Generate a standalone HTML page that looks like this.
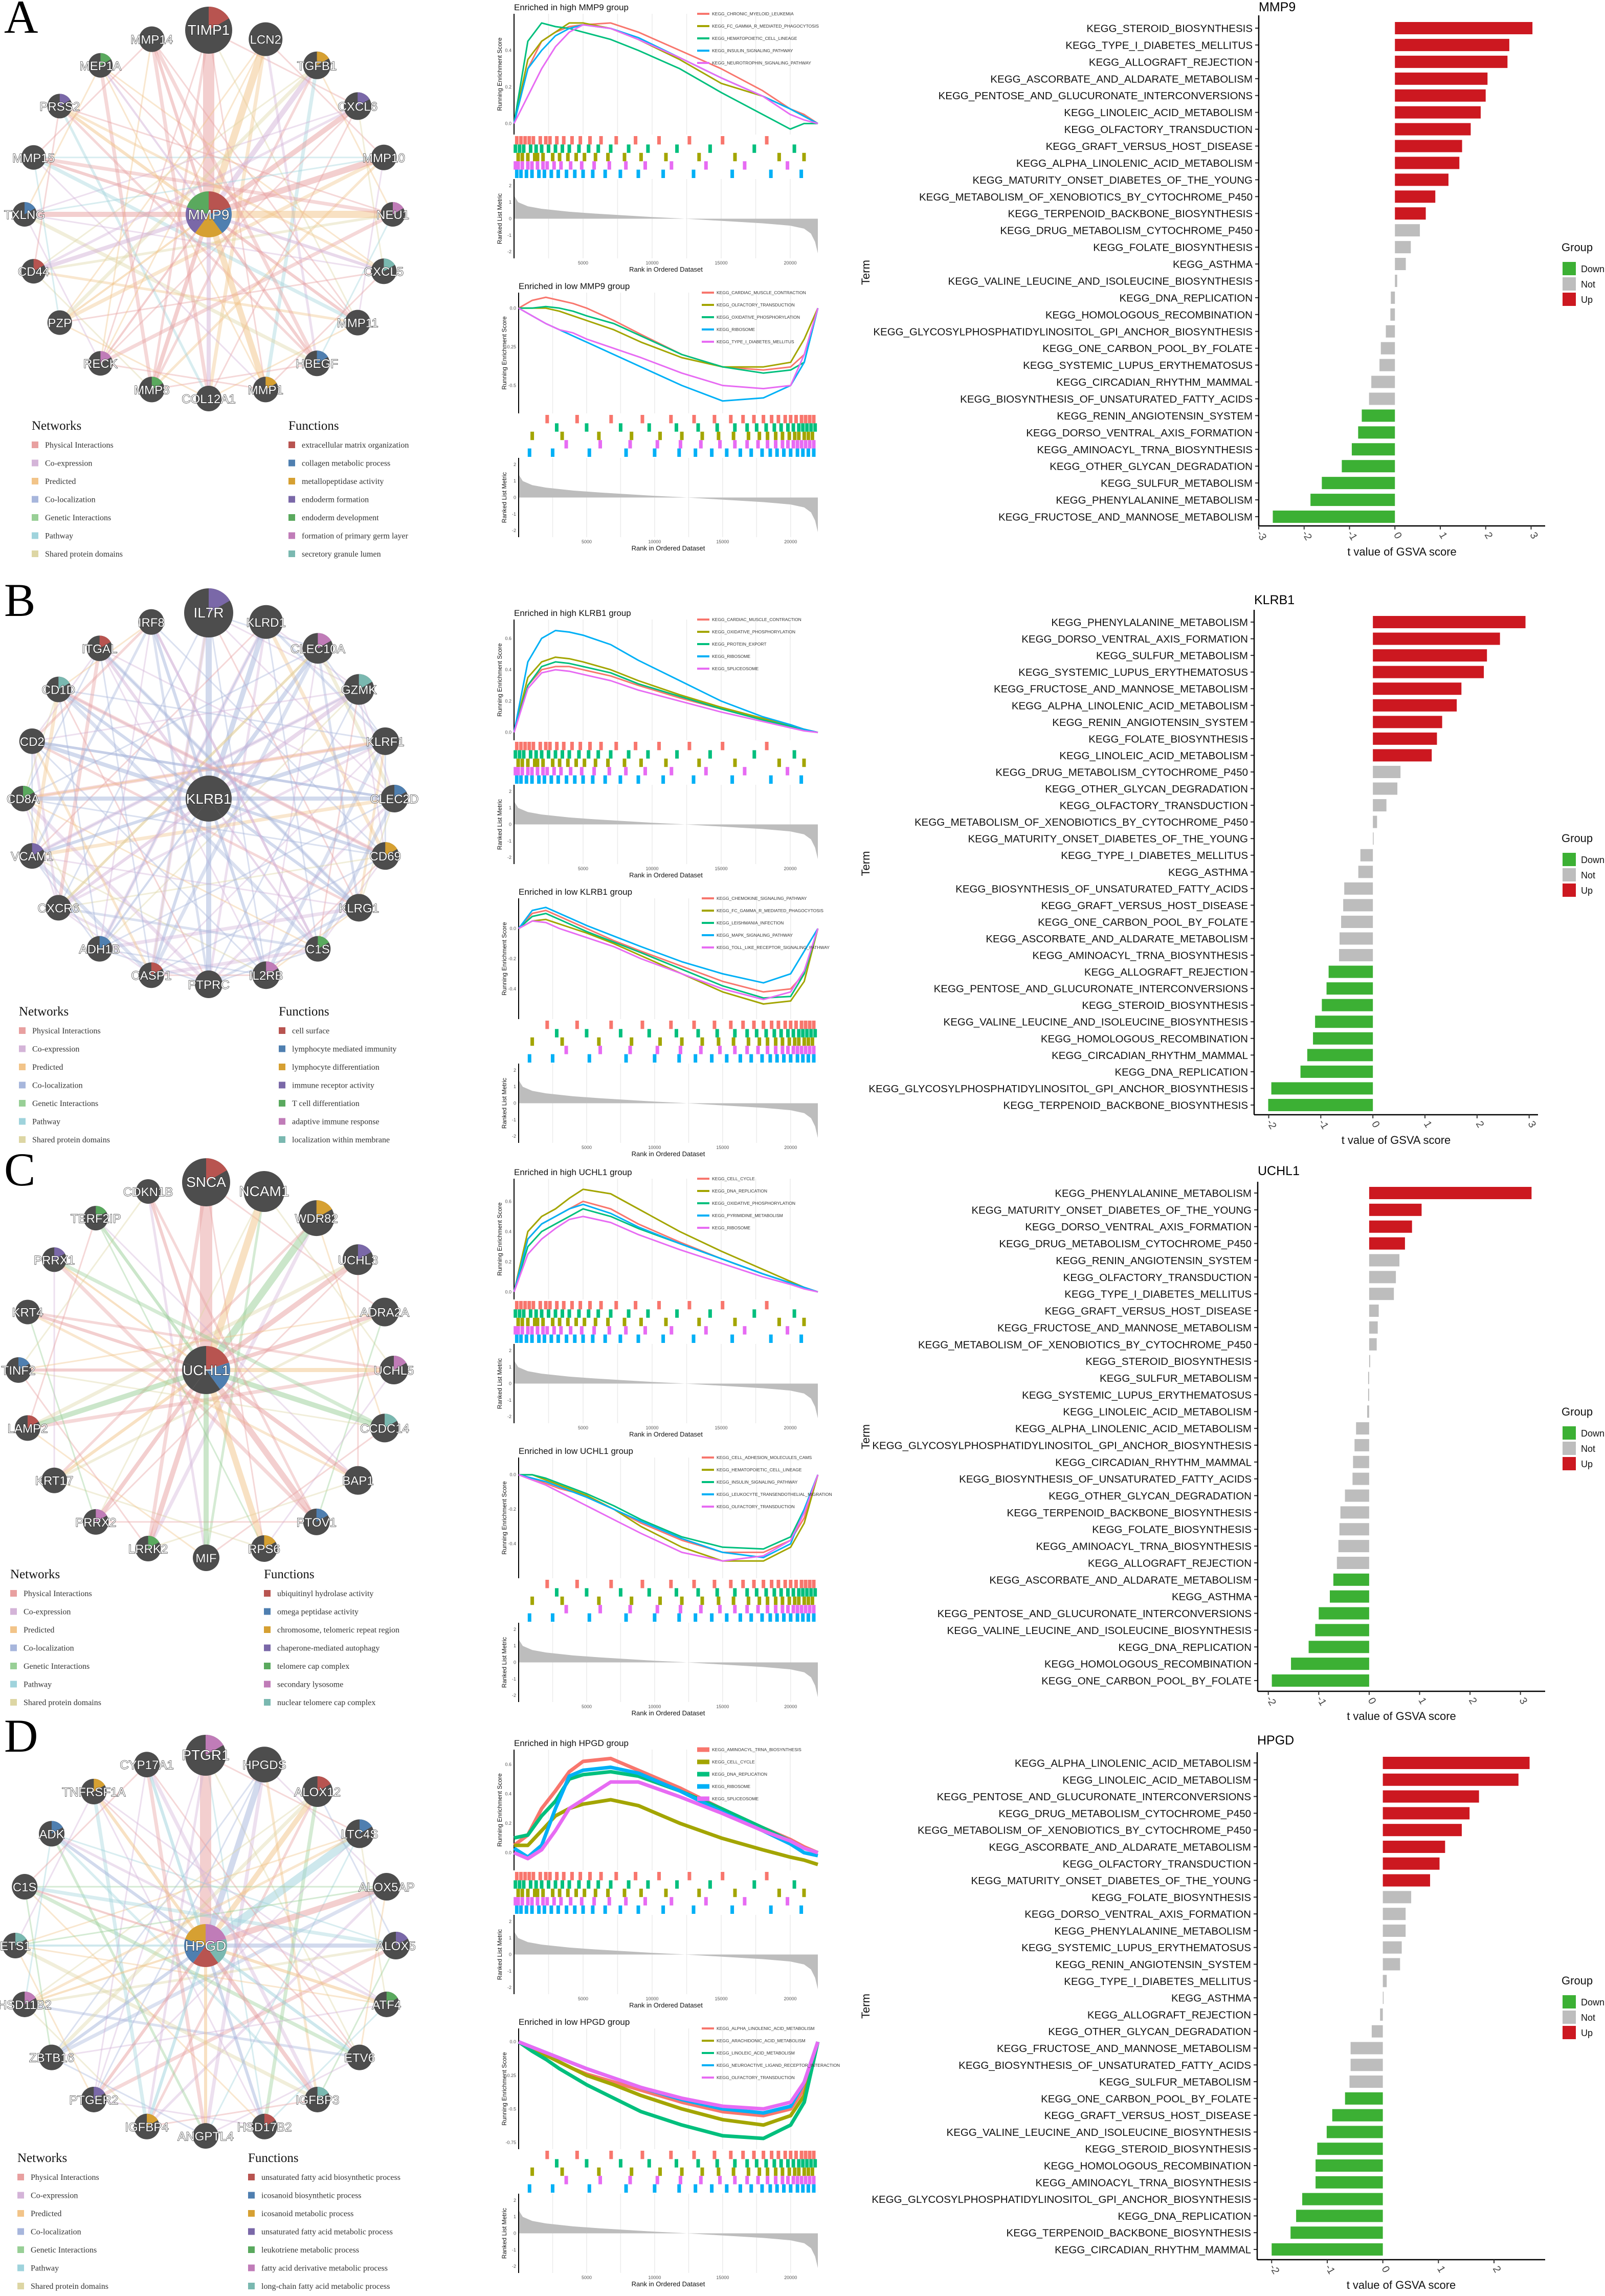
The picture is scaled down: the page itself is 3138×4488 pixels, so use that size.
<!DOCTYPE html>
<html><head><meta charset="utf-8"><title>Figure</title>
<style>
html,body{margin:0;padding:0;background:#fff;}
svg{display:block;}
text{font-family:"Liberation Sans",sans-serif;}
.serif{font-family:"Liberation Serif",serif;}
</style></head>
<body>
<svg id="fig" xmlns="http://www.w3.org/2000/svg" width="3138" height="4488" viewBox="0 0 3138 4488">
<rect x="0" y="0" width="3138" height="4488" fill="#fff"/>
</svg>
<script>
// ---------------- BAR CHART DATA ----------------
const mmp9Terms=["STEROID_BIOSYNTHESIS","TYPE_I_DIABETES_MELLITUS","ALLOGRAFT_REJECTION","ASCORBATE_AND_ALDARATE_METABOLISM","PENTOSE_AND_GLUCURONATE_INTERCONVERSIONS","LINOLEIC_ACID_METABOLISM","OLFACTORY_TRANSDUCTION","GRAFT_VERSUS_HOST_DISEASE","ALPHA_LINOLENIC_ACID_METABOLISM","MATURITY_ONSET_DIABETES_OF_THE_YOUNG","METABOLISM_OF_XENOBIOTICS_BY_CYTOCHROME_P450","TERPENOID_BACKBONE_BIOSYNTHESIS","DRUG_METABOLISM_CYTOCHROME_P450","FOLATE_BIOSYNTHESIS","ASTHMA","VALINE_LEUCINE_AND_ISOLEUCINE_BIOSYNTHESIS","DNA_REPLICATION","HOMOLOGOUS_RECOMBINATION","GLYCOSYLPHOSPHATIDYLINOSITOL_GPI_ANCHOR_BIOSYNTHESIS","ONE_CARBON_POOL_BY_FOLATE","SYSTEMIC_LUPUS_ERYTHEMATOSUS","CIRCADIAN_RHYTHM_MAMMAL","BIOSYNTHESIS_OF_UNSATURATED_FATTY_ACIDS","RENIN_ANGIOTENSIN_SYSTEM","DORSO_VENTRAL_AXIS_FORMATION","AMINOACYL_TRNA_BIOSYNTHESIS","OTHER_GLYCAN_DEGRADATION","SULFUR_METABOLISM","PHENYLALANINE_METABOLISM","FRUCTOSE_AND_MANNOSE_METABOLISM"];
const mmp9Values=[3.03,2.52,2.48,2.04,2.0,1.89,1.67,1.48,1.42,1.18,0.89,0.68,0.55,0.35,0.24,0.05,-0.09,-0.1,-0.2,-0.31,-0.34,-0.52,-0.57,-0.73,-0.81,-0.95,-1.17,-1.61,-1.86,-2.69];
const mmp9Groups=["Up","Up","Up","Up","Up","Up","Up","Up","Up","Up","Up","Up","Not","Not","Not","Not","Not","Not","Not","Not","Not","Not","Not","Down","Down","Down","Down","Down","Down","Down"];

const klrb1Terms=["PHENYLALANINE_METABOLISM","DORSO_VENTRAL_AXIS_FORMATION","SULFUR_METABOLISM","SYSTEMIC_LUPUS_ERYTHEMATOSUS","FRUCTOSE_AND_MANNOSE_METABOLISM","ALPHA_LINOLENIC_ACID_METABOLISM","RENIN_ANGIOTENSIN_SYSTEM","FOLATE_BIOSYNTHESIS","LINOLEIC_ACID_METABOLISM","DRUG_METABOLISM_CYTOCHROME_P450","OTHER_GLYCAN_DEGRADATION","OLFACTORY_TRANSDUCTION","METABOLISM_OF_XENOBIOTICS_BY_CYTOCHROME_P450","MATURITY_ONSET_DIABETES_OF_THE_YOUNG","TYPE_I_DIABETES_MELLITUS","ASTHMA","BIOSYNTHESIS_OF_UNSATURATED_FATTY_ACIDS","GRAFT_VERSUS_HOST_DISEASE","ONE_CARBON_POOL_BY_FOLATE","ASCORBATE_AND_ALDARATE_METABOLISM","AMINOACYL_TRNA_BIOSYNTHESIS","ALLOGRAFT_REJECTION","PENTOSE_AND_GLUCURONATE_INTERCONVERSIONS","STEROID_BIOSYNTHESIS","VALINE_LEUCINE_AND_ISOLEUCINE_BIOSYNTHESIS","HOMOLOGOUS_RECOMBINATION","CIRCADIAN_RHYTHM_MAMMAL","DNA_REPLICATION","GLYCOSYLPHOSPHATIDYLINOSITOL_GPI_ANCHOR_BIOSYNTHESIS","TERPENOID_BACKBONE_BIOSYNTHESIS"];
const klrb1Values=[2.93,2.44,2.19,2.13,1.70,1.61,1.33,1.23,1.13,0.53,0.47,0.26,0.08,0.01,-0.24,-0.28,-0.55,-0.57,-0.61,-0.64,-0.65,-0.85,-0.89,-0.98,-1.11,-1.15,-1.26,-1.39,-1.95,-2.01];
const klrb1Groups=["Up","Up","Up","Up","Up","Up","Up","Up","Up","Not","Not","Not","Not","Not","Not","Not","Not","Not","Not","Not","Not","Down","Down","Down","Down","Down","Down","Down","Down","Down"];

const uchl1Terms=["PHENYLALANINE_METABOLISM","MATURITY_ONSET_DIABETES_OF_THE_YOUNG","DORSO_VENTRAL_AXIS_FORMATION","DRUG_METABOLISM_CYTOCHROME_P450","RENIN_ANGIOTENSIN_SYSTEM","OLFACTORY_TRANSDUCTION","TYPE_I_DIABETES_MELLITUS","GRAFT_VERSUS_HOST_DISEASE","FRUCTOSE_AND_MANNOSE_METABOLISM","METABOLISM_OF_XENOBIOTICS_BY_CYTOCHROME_P450","STEROID_BIOSYNTHESIS","SULFUR_METABOLISM","SYSTEMIC_LUPUS_ERYTHEMATOSUS","LINOLEIC_ACID_METABOLISM","ALPHA_LINOLENIC_ACID_METABOLISM","GLYCOSYLPHOSPHATIDYLINOSITOL_GPI_ANCHOR_BIOSYNTHESIS","CIRCADIAN_RHYTHM_MAMMAL","BIOSYNTHESIS_OF_UNSATURATED_FATTY_ACIDS","OTHER_GLYCAN_DEGRADATION","TERPENOID_BACKBONE_BIOSYNTHESIS","FOLATE_BIOSYNTHESIS","AMINOACYL_TRNA_BIOSYNTHESIS","ALLOGRAFT_REJECTION","ASCORBATE_AND_ALDARATE_METABOLISM","ASTHMA","PENTOSE_AND_GLUCURONATE_INTERCONVERSIONS","VALINE_LEUCINE_AND_ISOLEUCINE_BIOSYNTHESIS","DNA_REPLICATION","HOMOLOGOUS_RECOMBINATION","ONE_CARBON_POOL_BY_FOLATE"];
const uchl1Values=[3.22,1.04,0.85,0.71,0.60,0.53,0.49,0.19,0.17,0.15,0.02,-0.02,-0.02,-0.04,-0.26,-0.29,-0.32,-0.33,-0.48,-0.57,-0.59,-0.61,-0.64,-0.71,-0.78,-1.0,-1.07,-1.2,-1.55,-1.93];
const uchl1Groups=["Up","Up","Up","Up","Not","Not","Not","Not","Not","Not","Not","Not","Not","Not","Not","Not","Not","Not","Not","Not","Not","Not","Not","Down","Down","Down","Down","Down","Down","Down"];

const hpgdTerms=["ALPHA_LINOLENIC_ACID_METABOLISM","LINOLEIC_ACID_METABOLISM","PENTOSE_AND_GLUCURONATE_INTERCONVERSIONS","DRUG_METABOLISM_CYTOCHROME_P450","METABOLISM_OF_XENOBIOTICS_BY_CYTOCHROME_P450","ASCORBATE_AND_ALDARATE_METABOLISM","OLFACTORY_TRANSDUCTION","MATURITY_ONSET_DIABETES_OF_THE_YOUNG","FOLATE_BIOSYNTHESIS","DORSO_VENTRAL_AXIS_FORMATION","PHENYLALANINE_METABOLISM","SYSTEMIC_LUPUS_ERYTHEMATOSUS","RENIN_ANGIOTENSIN_SYSTEM","TYPE_I_DIABETES_MELLITUS","ASTHMA","ALLOGRAFT_REJECTION","OTHER_GLYCAN_DEGRADATION","FRUCTOSE_AND_MANNOSE_METABOLISM","BIOSYNTHESIS_OF_UNSATURATED_FATTY_ACIDS","SULFUR_METABOLISM","ONE_CARBON_POOL_BY_FOLATE","GRAFT_VERSUS_HOST_DISEASE","VALINE_LEUCINE_AND_ISOLEUCINE_BIOSYNTHESIS","STEROID_BIOSYNTHESIS","HOMOLOGOUS_RECOMBINATION","AMINOACYL_TRNA_BIOSYNTHESIS","GLYCOSYLPHOSPHATIDYLINOSITOL_GPI_ANCHOR_BIOSYNTHESIS","DNA_REPLICATION","TERPENOID_BACKBONE_BIOSYNTHESIS","CIRCADIAN_RHYTHM_MAMMAL"];
const hpgdValues=[2.64,2.44,1.73,1.56,1.42,1.12,1.02,0.85,0.51,0.41,0.41,0.34,0.31,0.07,0.0,-0.05,-0.2,-0.58,-0.58,-0.6,-0.68,-0.91,-1.01,-1.18,-1.21,-1.21,-1.45,-1.56,-1.66,-2.0];
const hpgdGroups=["Up","Up","Up","Up","Up","Up","Up","Up","Not","Not","Not","Not","Not","Not","Not","Not","Not","Not","Not","Not","Down","Down","Down","Down","Down","Down","Down","Down","Down","Down"];

const mmp9Ticks=[-3,-2,-1,0,1,2,3];
const klrb1Ticks=[-2,-1,0,1,2,3];
const uchl1Ticks=[-2,-1,0,1,2,3];
const hpgdTicks=[-2,-1,0,1,2];

// ---------------- GSEA DATA ----------------
const gseaRanks=[0,1000,2000,3000,4000,5000,7000,9000,12000,15000,18000,20000,21000,22000];
const aHighES=[[0,0.3,0.45,0.5,0.53,0.54,0.55,0.5,0.4,0.3,0.18,0.08,0.05,0],[0,0.35,0.45,0.5,0.55,0.55,0.52,0.46,0.35,0.22,0.15,0.08,0.04,0],[0,0.45,0.55,0.53,0.52,0.5,0.46,0.4,0.3,0.17,0.05,-0.03,0,0],[0,0.3,0.4,0.48,0.52,0.54,0.52,0.47,0.36,0.25,0.15,0.08,0.04,0],[0,0.15,0.3,0.42,0.5,0.54,0.52,0.46,0.36,0.25,0.15,0.05,0.02,0]];
const aLowES=[[0,0.05,0.07,0.05,0.03,0,-0.08,-0.17,-0.3,-0.38,-0.4,-0.38,-0.3,0],[0,0,0,-0.02,-0.05,-0.08,-0.14,-0.22,-0.32,-0.38,-0.38,-0.35,-0.2,0],[0,0,0.01,0,-0.02,-0.05,-0.1,-0.18,-0.3,-0.38,-0.42,-0.4,-0.35,0],[0,-0.05,-0.1,-0.14,-0.18,-0.22,-0.3,-0.38,-0.5,-0.6,-0.58,-0.5,-0.35,0],[0,-0.05,-0.1,-0.14,-0.16,-0.2,-0.26,-0.32,-0.42,-0.5,-0.52,-0.5,-0.3,0]];
const bHighES=[[0,0.3,0.4,0.42,0.42,0.4,0.36,0.3,0.22,0.15,0.08,0.04,0.02,0],[0,0.35,0.45,0.48,0.47,0.45,0.4,0.33,0.24,0.16,0.09,0.05,0.02,0],[0,0.3,0.42,0.45,0.44,0.42,0.38,0.31,0.23,0.15,0.08,0.04,0.02,0],[0,0.45,0.6,0.65,0.64,0.62,0.56,0.46,0.33,0.2,0.1,0.05,0.02,0],[0,0.28,0.38,0.4,0.39,0.37,0.33,0.27,0.2,0.13,0.07,0.03,0.01,0]];
const bLowES=[[0,0.1,0.12,0.08,0.04,0,-0.08,-0.15,-0.25,-0.35,-0.42,-0.4,-0.3,0],[0,0.05,0.06,0.03,0,-0.03,-0.1,-0.18,-0.3,-0.42,-0.5,-0.48,-0.35,0],[0,0.08,0.1,0.06,0.02,-0.02,-0.09,-0.16,-0.27,-0.38,-0.46,-0.45,-0.3,0],[0,0.12,0.14,0.1,0.06,0.02,-0.05,-0.12,-0.22,-0.3,-0.36,-0.3,-0.15,0],[0,0.05,0.04,0,-0.03,-0.06,-0.12,-0.2,-0.3,-0.4,-0.47,-0.42,-0.28,0]];
const cHighES=[[0,0.35,0.45,0.5,0.55,0.6,0.55,0.45,0.33,0.22,0.12,0.06,0.03,0],[0,0.4,0.5,0.55,0.62,0.68,0.65,0.55,0.4,0.27,0.15,0.07,0.03,0],[0,0.3,0.4,0.45,0.5,0.55,0.5,0.42,0.32,0.22,0.12,0.06,0.03,0],[0,0.35,0.45,0.5,0.55,0.58,0.52,0.43,0.32,0.22,0.12,0.06,0.03,0],[0,0.25,0.35,0.42,0.48,0.5,0.46,0.38,0.28,0.19,0.1,0.05,0.02,0]];
const cLowES=[[0,-0.02,-0.05,-0.08,-0.1,-0.13,-0.2,-0.28,-0.38,-0.45,-0.45,-0.38,-0.25,0],[0,0,-0.03,-0.06,-0.09,-0.12,-0.2,-0.3,-0.42,-0.5,-0.5,-0.42,-0.28,0],[0,0,-0.02,-0.05,-0.08,-0.11,-0.18,-0.26,-0.36,-0.42,-0.43,-0.36,-0.2,0],[0,-0.02,-0.04,-0.07,-0.1,-0.13,-0.2,-0.27,-0.37,-0.45,-0.48,-0.4,-0.2,0],[0,-0.03,-0.06,-0.1,-0.14,-0.18,-0.26,-0.34,-0.45,-0.5,-0.47,-0.38,-0.22,0]];
const dHighES=[[0.05,0.12,0.3,0.42,0.55,0.62,0.64,0.56,0.44,0.3,0.17,0.09,0.04,0.0],[0.05,0.05,0.15,0.25,0.3,0.33,0.36,0.32,0.2,0.1,0.02,-0.03,-0.05,-0.08],[0.1,0.12,0.25,0.35,0.5,0.53,0.55,0.52,0.42,0.3,0.17,0.08,0.03,0],[0.03,-0.03,0.05,0.3,0.52,0.56,0.58,0.54,0.42,0.28,0.15,0.06,0.0,-0.02],[0,-0.04,0.02,0.15,0.3,0.36,0.48,0.48,0.38,0.27,0.15,0.08,0.03,0.0]];
const dLowES=[[0,-0.05,-0.1,-0.15,-0.2,-0.24,-0.3,-0.36,-0.45,-0.52,-0.55,-0.5,-0.35,0],[0,-0.05,-0.1,-0.15,-0.2,-0.25,-0.32,-0.4,-0.5,-0.58,-0.62,-0.55,-0.4,0],[0,-0.07,-0.13,-0.2,-0.26,-0.32,-0.42,-0.52,-0.62,-0.7,-0.72,-0.62,-0.45,0],[0,-0.04,-0.08,-0.12,-0.16,-0.2,-0.27,-0.34,-0.43,-0.5,-0.53,-0.48,-0.3,0],[0,-0.04,-0.08,-0.12,-0.16,-0.2,-0.27,-0.34,-0.42,-0.48,-0.5,-0.45,-0.3,0]];
const highHits=[[0.2,0.5,0.8,1.1,1.4,1.9,2.3,2.6,3.1,3.6,4.2,4.8,5.5,6.3,7.4,8.8,10.5,12.7,15.1,18.3],[0.3,0.6,1.0,1.5,1.7,2.1,2.8,3.3,3.9,4.5,5.1,5.9,6.8,8.0,9.2,11.0,13.4,16.0,19.2,21.0],[0.1,0.4,0.7,1.2,1.6,2.0,2.5,3.0,3.5,4.0,4.7,5.4,6.1,7.0,8.3,9.7,11.8,14.2,17.4,20.3],[0.2,0.5,0.9,1.3,1.8,2.2,2.7,3.2,3.8,4.4,5.0,5.7,6.6,7.7,9.0,10.8,13.0,15.8,18.6,20.8],[0.1,0.3,0.6,1.0,1.3,1.7,2.1,2.4,2.9,3.4,4.1,4.9,5.8,6.9,8.1,9.5,11.4,13.9,16.7,19.8]];
const lowHits=[[2.1,4.3,6.8,9.1,11.2,12.9,14.4,15.6,16.5,17.3,18.0,18.6,19.1,19.6,20.0,20.4,20.8,21.1,21.4,21.7],[1.0,3.2,5.9,8.3,10.4,12.0,13.5,14.7,15.8,16.9,17.7,18.3,18.9,19.4,19.9,20.3,20.6,21.0,21.3,21.6],[2.8,5.0,7.5,9.6,11.6,13.2,14.6,15.9,16.8,17.5,18.2,18.8,19.3,19.8,20.2,20.6,20.9,21.2,21.5,21.8],[0.8,2.5,5.2,7.9,10.0,11.8,13.0,14.2,15.3,16.3,17.1,17.9,18.5,19.0,19.5,20.0,20.5,20.9,21.3,21.7],[3.5,6.0,8.2,10.2,11.9,13.4,14.8,15.9,16.8,17.6,18.3,18.9,19.4,19.8,20.2,20.5,20.8,21.1,21.4,21.7]];
const metricRanks=[0,300,1000,2000,4000,6000,8000,10000,12000,14000,16000,18000,20000,21000,21500,21800,22000];
const metricVals=[1.4,1.0,0.75,0.6,0.42,0.3,0.2,0.1,0.02,-0.08,-0.18,-0.28,-0.42,-0.6,-0.9,-1.4,-2.1];
const rankTicks=[5000,10000,15000,20000];

// ---------------- HELPERS ----------------
const NS="http://www.w3.org/2000/svg";
const svg=document.getElementById('fig');
function mk(tag,attrs,name,parent){
  const el=document.createElementNS(NS,tag);
  for(const k in attrs) el.setAttribute(k,attrs[k]);
  
  
  (parent||svg).appendChild(el);
  return el;
}
function txt(x,y,s,attrs,name,parent){
  const a=Object.assign({x:x,y:y},attrs||{});
  const el=mk('text',a,name,parent);
  el.textContent=s;
  return el;
}
const groupColor={Up:"#cc1820",Not:"#bdbdbd",Down:"#3cb034"};

// ---------------- BAR CHARTS ----------------
function drawBars(cfg,terms,values,groups,ticks){
  const g=mk('g',{},cfg.key+'-bar-chart');
  const xs=v=>cfg.axL+(v-cfg.vMin)/(cfg.vMax-cfg.vMin)*(cfg.axR-cfg.axL);
  const ys=i=>cfg.row0+i*(cfg.rowN-cfg.row0)/(terms.length-1);
  txt(cfg.axL,cfg.titleY,cfg.title,{'font-size':25,fill:'#000'},cfg.key+'-chart-title',g);
  for(let i=0;i<terms.length;i++){
    const v=values[i];
    const x0=Math.min(xs(0),xs(v)), w=Math.abs(xs(v)-xs(0));
    mk('rect',{x:x0,y:ys(i)-12,width:Math.max(w,1.5),height:24,fill:groupColor[groups[i]]},'bar-'+terms[i].toLowerCase().replace(/_/g,'-'),g);
    txt(cfg.axL-12,ys(i)+7.5,'KEGG_'+terms[i],{'font-size':20.5,'text-anchor':'end',fill:'#111'},'term-label',g);
    mk('line',{x1:cfg.axL-7,x2:cfg.axL,y1:ys(i),y2:ys(i),stroke:'#333','stroke-width':2},'y-tick',g);
  }
  mk('line',{x1:cfg.axL,x2:cfg.axL,y1:cfg.axTop,y2:cfg.axBot,stroke:'#000','stroke-width':2.5},'y-axis-line',g);
  mk('line',{x1:cfg.axL,x2:cfg.axR,y1:cfg.axBot,y2:cfg.axBot,stroke:'#000','stroke-width':2.5},'x-axis-line',g);
  ticks.forEach(t=>{
    mk('line',{x1:xs(t),x2:xs(t),y1:cfg.axBot,y2:cfg.axBot+7,stroke:'#333','stroke-width':2},'x-tick',g);
    txt(xs(t),cfg.axBot+22,String(t),{'font-size':20,'text-anchor':'middle',fill:'#444',transform:'rotate(60 '+xs(t)+' '+(cfg.axBot+22)+')'},'x-tick-label',g);
  });
  txt((cfg.axL+cfg.axR)/2,cfg.xlabY,'t value of GSVA score',{'font-size':22,'text-anchor':'middle',fill:'#111'},'x-axis-title',g);
  const my=(cfg.row0+cfg.rowN)/2;
  txt(1700,my,'Term',{'font-size':22,'text-anchor':'middle',fill:'#111',transform:'rotate(-90 1700 '+my+')'},'y-axis-title',g);
  txt(3053,cfg.legY,'Group',{'font-size':22,fill:'#111'},'legend-title',g);
  ['Down','Not','Up'].forEach((k,j)=>{
    const yy=cfg.legY+34+j*30;
    mk('rect',{x:3055,y:yy-13,width:26,height:26,fill:groupColor[k]},'legend-swatch-'+k.toLowerCase(),g);
    txt(3091,yy+7,k,{'font-size':18,fill:'#111'},'legend-entry-'+k.toLowerCase(),g);
  });
}
drawBars({key:'mmp9',title:'MMP9',axL:2461,axR:3021,vMin:-3.0,vMax:3.31,row0:55,rowN:1010,axTop:30,axBot:1028,titleY:22,xlabY:1086,legY:491},mmp9Terms,mmp9Values,mmp9Groups,mmp9Ticks);
drawBars({key:'klrb1',title:'KLRB1',axL:2452,axR:3007,vMin:-2.28,vMax:3.17,row0:1216,rowN:2160,axTop:1192,axBot:2179,titleY:1181,xlabY:2236,legY:1646},klrb1Terms,klrb1Values,klrb1Groups,klrb1Ticks);
drawBars({key:'uchl1',title:'UCHL1',axL:2459,axR:3021,vMin:-2.21,vMax:3.49,row0:2332,rowN:3285,axTop:2310,axBot:3306,titleY:2297,xlabY:3362,legY:2767},uchl1Terms,uchl1Values,uchl1Groups,uchl1Ticks);
drawBars({key:'hpgd',title:'HPGD',axL:2458,axR:3021,vMin:-2.26,vMax:2.92,row0:3446,rowN:4397,axTop:3425,axBot:4417,titleY:3410,xlabY:4474,legY:3879},hpgdTerms,hpgdValues,hpgdGroups,hpgdTicks);

// ---------------- GSEA PLOTS ----------------
const seriesColors=["#F8766D","#A3A500","#00BF7D","#00B0F6","#E76BF3"];
function drawGsea(oy,top,key,title,es,yMin,yMax,yTicks,names,hits,lw){
  const d=top?0:545;
  const g=mk('g',{},key+'-gsea-plot');
  const x0=top?1005:1014, x1=1599;
  const p0=oy+27+d,p1=oy+263+d,r0=oy+266+d,r1=oy+348+d,m0=oy+350+d,m1=oy+505+d;
  const xr=r=>x0+r/22000*(x1-x0);
  const ys=v=>p1-(v-yMin)/(yMax-yMin)*(p1-p0);
  const mMin=-2.4,mMax=2.4;
  const ym=v=>m1-(v-mMin)/(mMax-mMin)*(m1-m0);
  txt(x0,oy+20+d,title,{'font-size':17,fill:'#111'},'gsea-title',g);
  for(let r=2500;r<22000;r+=2500){
    mk('line',{x1:xr(r),x2:xr(r),y1:p0,y2:p1,stroke:'#ebebeb','stroke-width':1.5},'grid-line',g);
    mk('line',{x1:xr(r),x2:xr(r),y1:m0,y2:m1,stroke:'#ebebeb','stroke-width':1.5},'grid-line',g);
  }
  yTicks.forEach(t=>{
    txt(x0-5,ys(t)+3,t.toFixed(t===0&&yMin>-0.3?1:(Math.abs(t)<1&&String(t).length>4?2:1)),{'font-size':9,'text-anchor':'end',fill:'#555'},'y-tick-label',g);
  });
  mk('line',{x1:x0,x2:x0,y1:p0,y2:p1,stroke:'#000','stroke-width':2},'es-axis-line',g);
  es.forEach((s,j)=>{
    const pts=s.map((v,i)=>xr(gseaRanks[i]).toFixed(1)+','+ys(v).toFixed(1)).join(' ');
    mk('polyline',{points:pts,fill:'none',stroke:seriesColors[j],'stroke-width':lw,'stroke-linejoin':'round'},'es-line-'+(j+1),g);
  });
  names.forEach((n,j)=>{
    const yy=p0+j*24;
    mk('line',{x1:x0+358,x2:x0+382,y1:yy,y2:yy,stroke:seriesColors[j],'stroke-width':top&&lw>4?9:4},'legend-line',g);
    txt(x0+387,yy+3,n,{'font-size':8.5,fill:'#333'},'legend-entry',g);
  });
  const rowOrder=[0,2,1,4,3];
  const rh=(r1-r0)/5;
  hits.forEach((h,j)=>{
    const row=rowOrder[j];
    h.forEach(v=>{
      mk('rect',{x:xr(v*1000)-3.5,y:r0+row*rh,width:7,height:rh,fill:seriesColors[j]},'rug-tick',g);
    });
  });
  const mp=[xr(0).toFixed(1)+','+ym(0).toFixed(1)];
  metricRanks.forEach((r,i)=>mp.push(xr(r).toFixed(1)+','+ym(metricVals[i]).toFixed(1)));
  mp.push(xr(22000).toFixed(1)+','+ym(0).toFixed(1));
  mk('polygon',{points:mp.join(' '),fill:'#bdbdbd'},'ranked-metric-area',g);
  mk('line',{x1:x0,x2:x0,y1:m0,y2:m1,stroke:'#000','stroke-width':2},'metric-axis-line',g);
  [2,1,0,-1,-2].forEach(t=>txt(x0-5,ym(t)+3,String(t),{'font-size':9,'text-anchor':'end',fill:'#555'},'metric-tick-label',g));
  rankTicks.forEach(t=>txt(xr(t),m1+12,String(t),{'font-size':9,'text-anchor':'middle',fill:'#555'},'x-tick-label',g));
  txt((x0+x1)/2,m1+26,'Rank in Ordered Dataset',{'font-size':13,'text-anchor':'middle',fill:'#111'},'x-axis-title',g);
  const cy1=(p0+p1)/2, cy2=(m0+m1)/2, tx=x0-24;
  txt(tx,cy1,'Running Enrichment Score',{'font-size':12,'text-anchor':'middle',fill:'#111',transform:'rotate(-90 '+tx+' '+cy1+')'},'y-axis-title',g);
  txt(tx,cy2,'Ranked List Metric',{'font-size':12,'text-anchor':'middle',fill:'#111',transform:'rotate(-90 '+tx+' '+cy2+')'},'y-axis-title',g);
}
drawGsea(0,true,'a-high','Enriched in high MMP9 group',aHighES,-0.06,0.6,[0.0,0.2,0.4],["KEGG_CHRONIC_MYELOID_LEUKEMIA","KEGG_FC_GAMMA_R_MEDIATED_PHAGOCYTOSIS","KEGG_HEMATOPOIETIC_CELL_LINEAGE","KEGG_INSULIN_SIGNALING_PATHWAY","KEGG_NEUROTROPHIN_SIGNALING_PATHWAY"],highHits,3);
drawGsea(0,false,'a-low','Enriched in low MMP9 group',aLowES,-0.68,0.1,[0.0,-0.25,-0.5],["KEGG_CARDIAC_MUSCLE_CONTRACTION","KEGG_OLFACTORY_TRANSDUCTION","KEGG_OXIDATIVE_PHOSPHORYLATION","KEGG_RIBOSOME","KEGG_TYPE_I_DIABETES_MELLITUS"],lowHits,3);
drawGsea(1184,true,'b-high','Enriched in high KLRB1 group',bHighES,-0.05,0.72,[0.0,0.2,0.4,0.6],["KEGG_CARDIAC_MUSCLE_CONTRACTION","KEGG_OXIDATIVE_PHOSPHORYLATION","KEGG_PROTEIN_EXPORT","KEGG_RIBOSOME","KEGG_SPLICEOSOME"],highHits,3);
drawGsea(1184,false,'b-low','Enriched in low KLRB1 group',bLowES,-0.6,0.2,[0.0,-0.2,-0.4],["KEGG_CHEMOKINE_SIGNALING_PATHWAY","KEGG_FC_GAMMA_R_MEDIATED_PHAGOCYTOSIS","KEGG_LEISHMANIA_INFECTION","KEGG_MAPK_SIGNALING_PATHWAY","KEGG_TOLL_LIKE_RECEPTOR_SIGNALING_PATHWAY"],lowHits,3);
drawGsea(2277,true,'c-high','Enriched in high UCHL1 group',cHighES,-0.05,0.75,[0.0,0.2,0.4,0.6],["KEGG_CELL_CYCLE","KEGG_DNA_REPLICATION","KEGG_OXIDATIVE_PHOSPHORYLATION","KEGG_PYRIMIDINE_METABOLISM","KEGG_RIBOSOME"],highHits,3);
drawGsea(2277,false,'c-low','Enriched in low UCHL1 group',cLowES,-0.6,0.1,[0.0,-0.2,-0.4],["KEGG_CELL_ADHESION_MOLECULES_CAMS","KEGG_HEMATOPOIETIC_CELL_LINEAGE","KEGG_INSULIN_SIGNALING_PATHWAY","KEGG_LEUKOCYTE_TRANSENDOTHELIAL_MIGRATION","KEGG_OLFACTORY_TRANSDUCTION"],lowHits,3);
drawGsea(3393,true,'d-high','Enriched in high HPGD group',dHighES,-0.12,0.7,[0.0,0.2,0.4,0.6],["KEGG_AMINOACYL_TRNA_BIOSYNTHESIS","KEGG_CELL_CYCLE","KEGG_DNA_REPLICATION","KEGG_RIBOSOME","KEGG_SPLICEOSOME"],highHits,7);
drawGsea(3393,false,'d-low','Enriched in low HPGD group',dLowES,-0.8,0.1,[0.0,-0.25,-0.5,-0.75],["KEGG_ALPHA_LINOLENIC_ACID_METABOLISM","KEGG_ARACHIDONIC_ACID_METABOLISM","KEGG_LINOLEIC_ACID_METABOLISM","KEGG_NEUROACTIVE_LIGAND_RECEPTOR_INTERACTION","KEGG_OLFACTORY_TRANSDUCTION"],lowHits,7);

// ---------------- NETWORKS ----------------
const edgeColors=["#e8a0a0","#d4b4d8","#f2c489","#a7b6dc","#98cf96","#9fd3dc","#ddd6a4"];
const funcColors=["#b85450","#4f7fb0","#d6a032","#7a68a8","#5aa95e","#c07cb8","#7ab8b0"];
const netLabels=["Physical Interactions","Co-expression","Predicted","Co-localization","Genetic Interactions","Pathway","Shared protein domains"];
function drawNetwork(p){
  const g=mk('g',{},p.key+'-network');
  const pos=p.nodes.map((n,i)=>{const a=i*Math.PI/10;return [p.cx+p.R*Math.sin(a),p.cy-p.R*Math.cos(a)];});
  // edges
  for(let i=0;i<20;i++){
    p.ks.forEach((k,m)=>{
      const j=(i+k)%20; if(j<i&&k!==9)return;
      mk('line',{x1:pos[i][0],y1:pos[i][1],x2:pos[j][0],y2:pos[j][1],stroke:edgeColors[p.pal[(i+m*3)%p.pal.length]],'stroke-width':3+((i*m)%3)*2,opacity:0.4},'network-edge',g);
    });
    mk('line',{x1:p.cx,y1:p.cy,x2:pos[i][0],y2:pos[i][1],stroke:edgeColors[p.pal[(i*2)%p.pal.length]],'stroke-width':p.thick[i]||6,opacity:0.5},'network-edge-center',g);
  }
  // nodes
  p.nodes.forEach((n,i)=>{
    const r=p.r[i]||25;
    mk('circle',{cx:pos[i][0],cy:pos[i][1],r:r,fill:'#4d4d4d'},'node-'+n.toLowerCase(),g);
    if(i%3!==1){
      const c=funcColors[(i+p.shift)%7];
      const a0=-Math.PI/2, a1=a0+Math.PI/3;
      const X=pos[i][0],Y=pos[i][1];
      mk('path',{d:'M'+X+','+Y+' L'+(X+r*Math.cos(a0))+','+(Y+r*Math.sin(a0))+' A'+r+','+r+' 0 0 1 '+(X+r*Math.cos(a1))+','+(Y+r*Math.sin(a1))+' Z',fill:c},'node-function-slice',g);
    }
    txt(pos[i][0],pos[i][1]+9,n,{'font-size':r>35?28:24,'text-anchor':'middle',fill:'#fff',stroke:'#222','stroke-width':1.2,'paint-order':'stroke'},'node-label',g);
  });
  // center
  for(let k=0;k<5;k++){
    const a0=-Math.PI/2+k*2*Math.PI/5, a1=a0+2*Math.PI/5, r=p.cr;
    mk('path',{d:'M'+p.cx+','+p.cy+' L'+(p.cx+r*Math.cos(a0))+','+(p.cy+r*Math.sin(a0))+' A'+r+','+r+' 0 0 1 '+(p.cx+r*Math.cos(a1))+','+(p.cy+r*Math.sin(a1))+' Z',fill:k<p.centerSlices?funcColors[(k+p.shift)%7]:'#4d4d4d'},'center-node-slice',g);
  }
  txt(p.cx,p.cy+10,p.center,{'font-size':28,'text-anchor':'middle',fill:'#fff',stroke:'#222','stroke-width':1.2,'paint-order':'stroke'},'center-node-label',g);
  // legend
  txt(p.lx,p.ly,'Networks',{'font-size':25,fill:'#111',class:'serif'},'networks-legend-title',g);
  txt(p.fx,p.ly,'Functions',{'font-size':25,fill:'#111',class:'serif'},'functions-legend-title',g);
  netLabels.forEach((s,j)=>{
    const yy=p.ly+35+j*35.5;
    mk('rect',{x:p.lx,y:yy-12,width:13,height:13,fill:edgeColors[j]},'network-legend-swatch',g);
    txt(p.lx+26,yy,s,{'font-size':16,fill:'#333',class:'serif'},'network-legend-entry',g);
    mk('rect',{x:p.fx,y:yy-12,width:13,height:13,fill:funcColors[j]},'function-legend-swatch',g);
    txt(p.fx+26,yy,p.funcs[j],{'font-size':16,fill:'#333',class:'serif'},'function-legend-entry',g);
  });
  txt(8,p.letterY,p.letter,{'font-size':92,fill:'#000',class:'serif'},'panel-label-'+p.letter.toLowerCase(),g);
}
drawNetwork({key:'a',letter:'A',letterY:64,cx:408,cy:419,R:360,cr:45,center:'MMP9',centerSlices:5,shift:0,ks:[3,7,9,12],pal:[0,0,2,6,1,5,0,2],
 nodes:["TIMP1","LCN2","TGFB1","CXCL6","MMP10","NEU1","CXCL5","MMP11","HBEGF","MMP1","COL12A1","MMP8","RECK","PZP","CD44","TXLNG","MMP15","PRSS2","MEP1A","MMP14"],
 r:[46,33,27,27,25,24,25,25,25,25,25,25,24,24,24,24,24,24,24,25],thick:[22,14,10,10,12,14,6,6,6,12,8,8,4,4,8,10,6,6,4,6],
 lx:62,ly:840,fx:564,funcs:["extracellular matrix organization","collagen metabolic process","metallopeptidase activity","endoderm formation","endoderm development","formation of primary germ layer","secretory granule lumen"]});
drawNetwork({key:'b',letter:'B',letterY:1204,cx:408,cy:1561,R:363,cr:45,center:'KLRB1',centerSlices:0,shift:3,ks:[2,3,5,7,9,11,13],pal:[3,1,3,1,3,6,1,2,3,0],
 nodes:["IL7R","KLRD1","CLEC10A","GZMK","KLRF1","CLEC2D","CD69","KLRG1","C1S","IL2RB","PTPRC","CASP1","ADH1B","CXCR6","VCAM1","CD8A","CD2","CD1D","ITGAL","IRF8"],
 r:[48,33,30,30,27,27,27,27,25,27,27,25,25,25,25,25,25,25,25,25],thick:[12,10,8,8,8,8,6,6,4,6,10,6,4,6,6,8,8,6,6,6],
 lx:37,ly:1985,fx:545,funcs:["cell surface","lymphocyte mediated immunity","lymphocyte differentiation","immune receptor activity","T cell differentiation","adaptive immune response","localization within membrane"]});
drawNetwork({key:'c',letter:'C',letterY:2317,cx:403,cy:2678,R:367,cr:47,center:'UCHL1',centerSlices:2,shift:0,ks:[4,9],pal:[0,6,2,0,4,1,0,6],
 nodes:["SNCA","NCAM1","WDR82","UCHL3","ADRA2A","UCHL5","CCDC14","BAP1","PTOV1","RPS6","MIF","LRRK2","PRRX2","KRT17","LAMP2","TINF2","KRT4","PRRX1","TERF2IP","CDKN1B"],
 r:[47,40,35,30,28,28,28,28,26,26,26,25,25,25,25,25,24,24,24,24],thick:[24,14,14,10,8,8,10,8,12,12,10,10,8,6,10,6,6,4,6,6],
 lx:20,ly:3085,fx:516,funcs:["ubiquitinyl hydrolase activity","omega peptidase activity","chromosome, telomeric repeat region","chaperone-mediated autophagy","telomere cap complex","secondary lysosome","nuclear telomere cap complex"]});
drawNetwork({key:'d',letter:'D',letterY:3424,cx:402,cy:3803,R:372,cr:42,center:'HPGD',centerSlices:5,shift:5,ks:[3,7,9,12],pal:[0,1,3,6,2,4,5,1],
 nodes:["PTGR1","HPGDS","ALOX12","LTC4S","ALOX5AP","ALOX5","ATF4","ETV6","IGFBP3","HSD17B2","ANGPTL4","IGFBP4","PTGER2","ZBTB16","HSD11B2","ETS1","C1S","ADK","TNFRSF1A","CYP17A1"],
 r:[40,35,30,28,27,27,25,25,25,25,25,25,25,25,25,25,25,25,25,25],thick:[22,12,10,16,12,8,6,6,8,6,6,6,6,6,4,4,4,6,6,6],
 lx:34,ly:4226,fx:485,funcs:["unsaturated fatty acid biosynthetic process","icosanoid biosynthetic process","icosanoid metabolic process","unsaturated fatty acid metabolic process","leukotriene metabolic process","fatty acid derivative metabolic process","long-chain fatty acid metabolic process"]});
</script>
</body></html>
